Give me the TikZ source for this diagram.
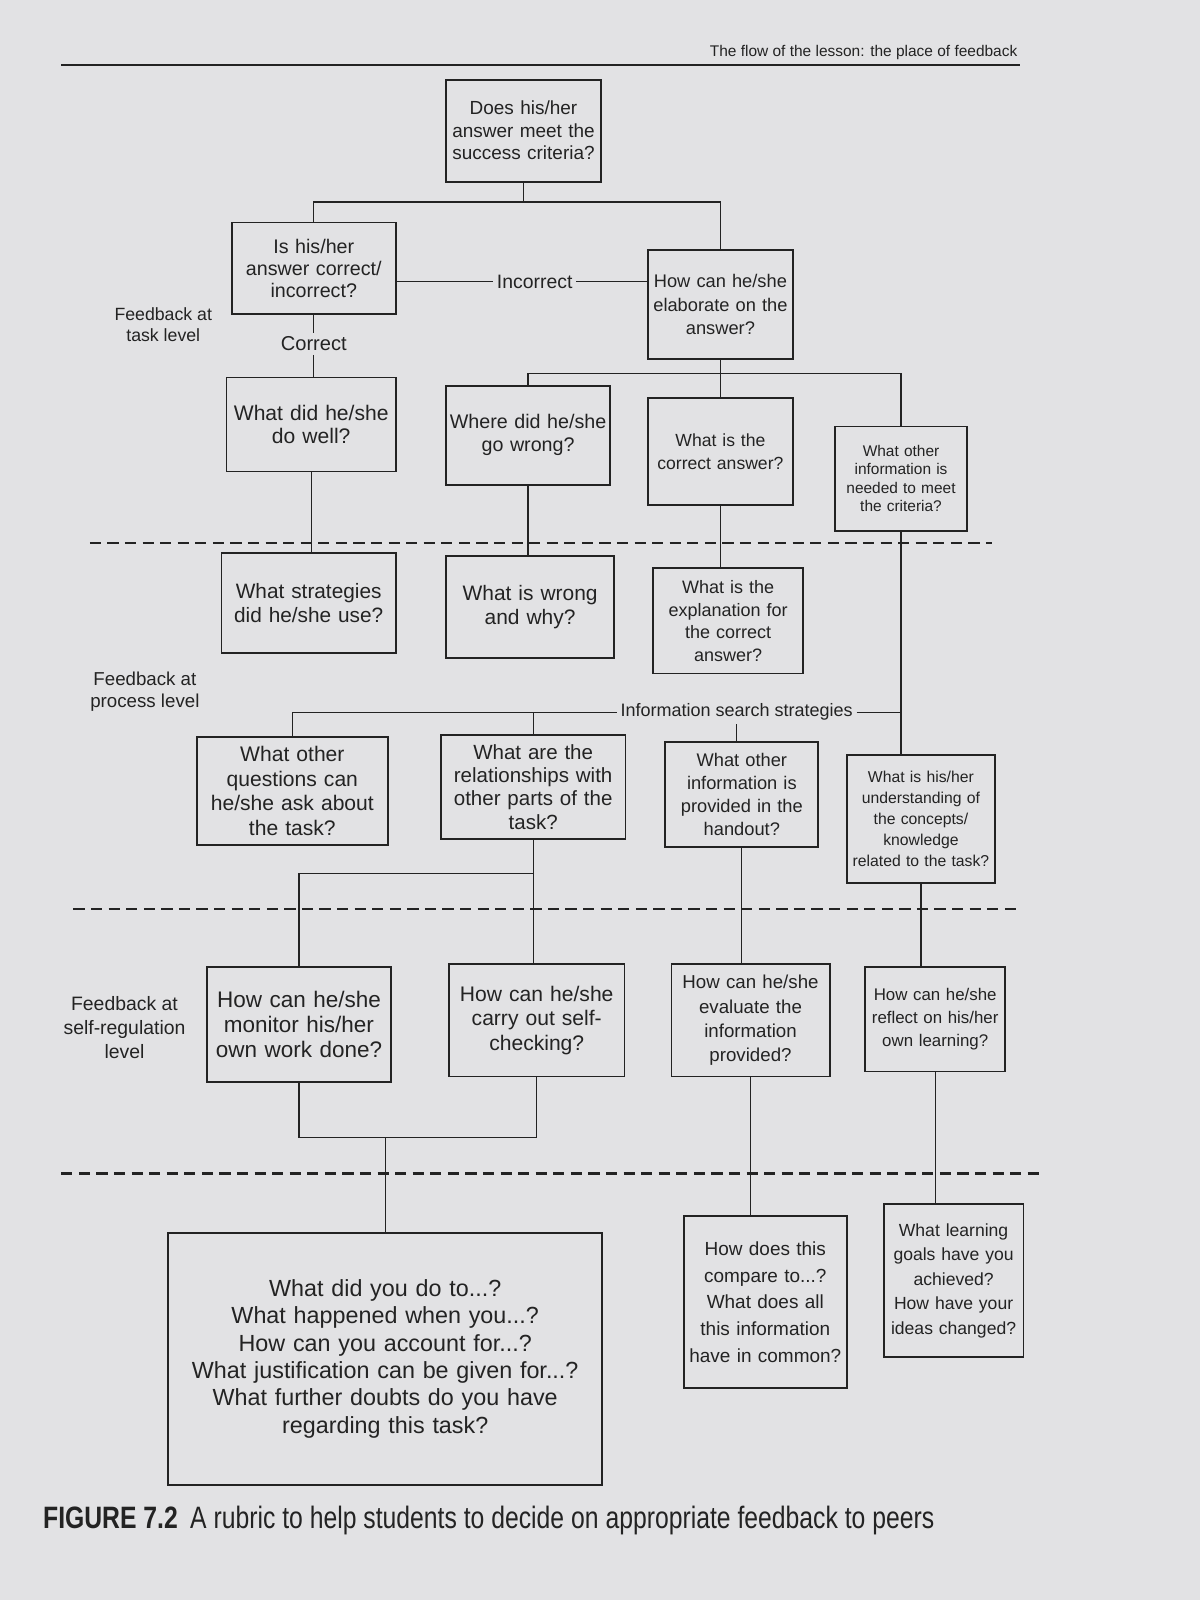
\documentclass[tikz,border=0pt]{standalone}
\usepackage{fontspec}
\setmainfont{Liberation Sans}
\newfontfamily\capfont{Liberation Sans}[FakeStretch=0.8]
\newcommand{\fsz}[2]{\fontsize{#1}{#2}\selectfont}
\definecolor{pagebg}{RGB}{226,226,228}
\definecolor{ink}{RGB}{35,35,35}
% \qnode{name}{x1}{y1}{x2}{y2}{font}{text}
\newcommand{\qnode}[7]{%
  \pgfmathsetlengthmacro{\qw}{(#4-#2)*0.02551cm}%
  \pgfmathsetlengthmacro{\qh}{(#5-#3)*0.02551cm}%
  \pgfmathsetlengthmacro{\qtw}{(#4-#2)*0.02551cm-2pt}%
  \node[qbox, minimum width=\qw, minimum height=\qh, text width=\qtw, font={#6}]
    (#1) at ({(#2+#4)/2},{(#3+#5)/2}) {#7};%
}
\begin{document}
\begin{tikzpicture}[x=0.02551cm, y=-0.02551cm,
  qbox/.style={draw=ink, line width=1.3pt, inner sep=0pt, align=center, text=ink},
  conn/.style={draw=ink, line width=0.9pt},
  lbl/.style={inner sep=2.5pt, text=ink},
  lvl/.style={align=center, text=ink, inner sep=1pt},
  dashline/.style={draw=ink, line width=1.8pt, dash pattern=on 8pt off 4.5pt}]
\fill[pagebg] (0,0) rectangle (1176,1568);
\useasboundingbox (0,0) rectangle (1176,1568);

% header
\draw[ink, line width=1.2pt] (60,64) -- (1000,64);
\node[anchor=south east, font=\fsz{11}{13}, text=ink, inner sep=2pt] (hdr) at (1000,62)
  {The flow of the lesson: the place of feedback};

% boxes
\qnode{b1}{437}{78}{589}{178}{\fsz{13.5}{16}}{Does his/her\\answer meet the\\success criteria?}
\qnode{b2}{227}{218}{388}{308}{\fsz{14}{15.5}}{Is his/her\\answer correct/\\incorrect?}
\qnode{b3}{635}{245}{777}{352}{\fsz{13}{16.5}}{How can he/she\\elaborate on the\\answer?}
\qnode{b4}{222}{370}{388}{462}{\fsz{15}{16.5}}{What did he/she\\do well?}
\qnode{b5}{437}{378}{598}{475}{\fsz{14}{16.5}}{Where did he/she\\go wrong?}
\qnode{b6}{635}{390}{777}{495}{\fsz{12.5}{16}}{What is the\\correct answer?}
\qnode{b7}{818}{418}{948}{520}{\fsz{11}{13}}{What other\\information is\\needed to meet\\the criteria?}
\qnode{b8}{217}{542}{388}{640}{\fsz{14.8}{16.5}}{What strategies\\did he/she use?}
\qnode{b9}{437}{545}{602}{645}{\fsz{14.9}{16.5}}{What is wrong\\and why?}
\qnode{b10}{640}{557}{787}{660}{\fsz{12.8}{16}}{What is the\\explanation for\\the correct\\answer?}
\qnode{b11}{193}{722}{380}{828}{\fsz{15}{17.4}}{What other\\questions can\\he/she ask about\\the task?}
\qnode{b12}{432}{720}{613}{822}{\fsz{14.6}{16.6}}{What are the\\relationships with\\other parts of the\\task?}
\qnode{b13}{652}{727}{802}{830}{\fsz{13}{16.5}}{What other\\information is\\provided in the\\handout?}
\qnode{b14}{830}{740}{975}{865}{\fsz{11.2}{15}}{What is his/her\\understanding of\\the concepts/\\knowledge\\related to the task?}
\qnode{b15}{203}{948}{383}{1060}{\fsz{16}{18}}{How can he/she\\monitor his/her\\own work done?}
\qnode{b16}{440}{945}{612}{1055}{\fsz{15}{17.4}}{How can he/she\\carry out self-\\checking?}
\qnode{b17}{658}{945}{813}{1055}{\fsz{13.3}{17.4}}{How can he/she\\evaluate the\\information\\provided?}
\qnode{b18}{848}{948}{985}{1050}{\fsz{12}{16.5}}{How can he/she\\reflect on his/her\\own learning?}
\qnode{b19}{165}{1208}{590}{1455}{\fsz{16.6}{19.5}}{What did you do to...?\\What happened when you...?\\How can you account for...?\\What justification can be given for...?\\What further doubts do you have\\regarding this task?}
\qnode{b20}{670}{1192}{830}{1360}{\fsz{13.5}{19}}{How does this\\compare to...?\\What does all\\this information\\have in common?}
\qnode{b21}{866}{1180}{1003}{1330}{\fsz{12.5}{17.4}}{What learning\\goals have you\\achieved?\\How have your\\ideas changed?}

% level labels
\node[lvl, font=\fsz{12.6}{15}] (lt) at (160,318) {Feedback at\\task level};
\node[lvl, font=\fsz{13.3}{16}] (lp) at (142,678) {Feedback at\\process level};
\node[lvl, font=\fsz{13.8}{17.4}] (ls) at (122,1007) {Feedback at\\self-regulation\\level};

% dashed level separators
\draw[dashline] (88,532) -- (972,532);
\draw[dashline] (72,891) -- (1000,891);
\draw[dashline] (60,1150) -- (1020,1150);

% top split
\coordinate (j1) at (513,198);
\draw[conn] (b1.south) -- (j1);
\draw[conn] (b2.north) |- (j1) -| (b3.north);

% incorrect / correct
\node[lbl, font=\fsz{13.8}{16}] (inc) at (524,276) {Incorrect};
\draw[conn] (b2.east |- inc) -- (inc.west);
\draw[conn] (inc.east) -- (inc.east -| b3.west);
\node[lbl, font=\fsz{14.3}{16}] (cor) at (307.5,337) {Correct};
\draw[conn] (b2.south) -- (b2.south |- cor.north);
\draw[conn] (cor.south) -- (cor.south |- b4.north);

% split below elaborate
\coordinate (j2) at (706,366);
\draw[conn] (b3.south) -- (j2);
\draw[conn] (b5.north) |- (j2) -| (b7.north);
\draw[conn] (j2) -- (j2 |- b6.north);

% task -> process
\draw[conn] (b4.south) -- (b4.south |- b8.north);
\draw[conn] (b5.south) -- (b5.south |- b9.north);
\draw[conn] (b6.south) -- (b6.south |- b10.north);
\draw[conn] (b7.south) -- (b7.south |- b14.north);

% information search strategies
\node[lbl, font=\fsz{12.8}{15}] (iss) at (722,698) {Information search strategies};
\draw[conn] (b11.north) |- (iss.west);
\draw[conn] (b12.north) -- (b12.north |- iss.west);
\draw[conn] (iss.east) -- (iss.east -| b7.south);
\draw[conn] (iss.south) -- (iss.south |- b13.north);

% process -> self-regulation
\coordinate (j3) at (522.5,856);
\draw[conn] (b12.south) -- (b12.south |- b16.north);
\draw[conn] (j3) -| (b15.north);
\draw[conn] (b13.south) -- (b13.south |- b17.north);
\draw[conn] (b14.south) -- (b14.south |- b18.north);

% self-regulation -> questions
\coordinate (j4) at (378,1115);
\draw[conn] (b15.south) |- (j4) -| (b16.south);
\draw[conn] (j4) -- (j4 |- b19.north);
\draw[conn] (b17.south) -- (b17.south |- b20.north);
\draw[conn] (b18.south) -- (b18.south |- b21.north);

% caption
\node[anchor=west, text=ink, inner sep=0pt, font={\capfont\fsz{22}{26}}] (cap) at (42,1490)
  {\textbf{FIGURE 7.2}\hspace{0.4em}A rubric to help students to decide on appropriate feedback to peers};
\end{tikzpicture}
\end{document}
